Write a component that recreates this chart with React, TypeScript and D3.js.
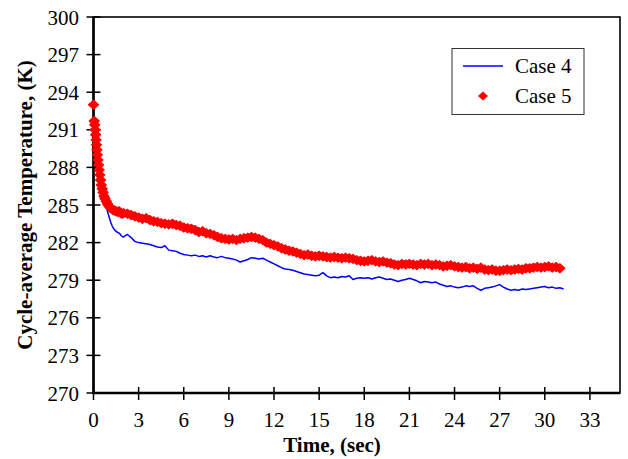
import React from 'react';
import * as d3 from 'd3';

// x ticks (sec) and y ticks (K)
const X_TICKS = [0, 3, 6, 9, 12, 15, 18, 21, 24, 27, 30, 33];
const Y_TICKS = [270, 273, 276, 279, 282, 285, 288, 291, 294, 297, 300];

// Case 4 - first two seconds (irregular sampling), then every 0.25 s from 2.0
const CASE4_EARLY_T = [0.05, 0.15, 0.25, 0.35, 0.45, 0.55, 0.65, 0.75, 0.85, 0.95, 1.05, 1.15, 1.25, 1.35, 1.45, 1.55, 1.65, 1.75, 1.85, 1.95];
const CASE4_EARLY_V = [291.2, 290.0, 289.0, 288.2, 287.4, 286.6, 285.9, 285.3, 284.8, 284.4, 284.0, 283.6, 283.3, 283.1, 282.95, 282.85, 282.8, 282.7, 282.55, 282.45];
const CASE4_STEP = 0.25;
const CASE4 = [
  282.45, 282.65, 282.4, 282.1, 282.0, 281.95, 281.9, 281.85, 281.75, 281.65, 281.6, 281.75,
  281.4, 281.35, 281.3, 281.15,
  281.05, 281.0, 280.95, 281.0,
  280.9, 280.95, 280.85, 280.95,
  280.85, 280.8, 280.9, 280.8,
  280.75, 280.7, 280.6, 280.45,
  280.55, 280.65, 280.8, 280.75,
  280.7, 280.75, 280.6, 280.45,
  280.3, 280.15, 280.0, 279.9,
  279.85, 279.8, 279.7, 279.6,
  279.5, 279.45, 279.4, 279.35,
  279.4, 279.6, 279.35, 279.2,
  279.25, 279.2, 279.3, 279.25,
  279.35, 279.05, 279.15, 279.2,
  279.15, 279.2, 279.1, 279.2,
  279.25, 279.15, 279.05, 279.1,
  279.0, 278.9, 279.0, 279.05,
  279.15, 279.05, 278.95, 278.8,
  278.9, 278.85, 278.8, 278.85,
  278.7, 278.6, 278.5, 278.55,
  278.45, 278.4, 278.45, 278.55,
  278.5, 278.55, 278.35, 278.2,
  278.35, 278.4, 278.45, 278.55,
  278.65, 278.45, 278.3, 278.2,
  278.25, 278.2, 278.3, 278.25,
  278.3, 278.35, 278.4, 278.45,
  278.5, 278.4, 278.45, 278.35,
  278.4, 278.3,
];

// Case 5 - early points, then every 0.25 s from 2.0
const CASE5_EARLY_T = [0.0, 0.05, 0.08, 0.11, 0.14, 0.17, 0.2, 0.23, 0.26, 0.3, 0.34, 0.38, 0.42, 0.47, 0.52, 0.58, 0.64, 0.7, 0.77, 0.85, 0.93, 1.0, 1.1, 1.2, 1.3, 1.4, 1.5, 1.6, 1.7, 1.8, 1.9];
const CASE5_EARLY_V = [293.0, 291.7, 291.4, 291.0, 290.6, 290.2, 289.8, 289.4, 289.0, 288.6, 288.2, 287.8, 287.4, 287.0, 286.6, 286.3, 286.0, 285.7, 285.5, 285.3, 285.1, 284.95, 284.8, 284.7, 284.6, 284.55, 284.5, 284.45, 284.5, 284.35, 284.3];
const CASE5_STEP = 0.25;
const CASE5 = [
  284.35, 284.3, 284.2, 284.1,
  284.0, 283.9, 283.95, 283.8,
  283.7, 283.65, 283.55, 283.5,
  283.45, 283.5, 283.4, 283.35,
  283.2, 283.15, 283.1, 283.0,
  282.85, 282.9, 282.75, 282.7,
  282.6, 282.45, 282.35, 282.3,
  282.25, 282.3, 282.2, 282.3,
  282.35, 282.4, 282.45, 282.4,
  282.3, 282.2, 282.0, 281.9,
  281.8, 281.7, 281.55, 281.45,
  281.35, 281.3, 281.2, 281.1,
  281.0, 281.05, 280.95, 280.9,
  280.95, 280.9, 280.85, 280.8,
  280.85, 280.8, 280.75, 280.8,
  280.75, 280.7, 280.6, 280.55,
  280.5, 280.55, 280.6, 280.5,
  280.45, 280.5, 280.4, 280.35,
  280.25, 280.2, 280.3, 280.25,
  280.3, 280.25, 280.2, 280.3,
  280.25, 280.3, 280.2, 280.25,
  280.2, 280.1, 280.15, 280.2,
  280.1, 280.05, 280.0, 280.05,
  279.95, 280.0, 279.9, 280.0,
  279.85, 279.8, 279.85, 279.75,
  279.75, 279.8, 279.85, 279.8,
  279.85, 279.9, 279.85, 279.95,
  279.95, 280.0, 280.05, 280.0,
  280.05, 280.1, 280.0, 280.05,
  279.95,
];

const W = 628;
const H = 459;
const FONT = '"Liberation Serif", "Times New Roman", Times, serif';

const toPoints = (earlyT: number[], earlyV: number[], step: number, vals: number[]) => {
  const pts: [number, number][] = earlyT.map((t, i) => [t, earlyV[i]]);
  vals.forEach((v, i) => pts.push([2 + i * step, v]));
  return pts;
};

const diamond = (cx: number, cy: number) =>
  `M${cx},${cy - 4.5}L${cx + 5},${cy}L${cx},${cy + 4.5}L${cx - 5},${cy}Z`;

const App: React.FC = () => {
  const left = 93.5, right = 620, top = 17, bottom = 393;

  const x = d3.scaleLinear().domain([0, 35]).range([left, right]);
  const y = d3.scaleLinear().domain([270, 300]).range([bottom, top]);

  const case4 = toPoints(CASE4_EARLY_T, CASE4_EARLY_V, CASE4_STEP, CASE4);
  const case5 = toPoints(CASE5_EARLY_T, CASE5_EARLY_V, CASE5_STEP, CASE5);

  const line = d3.line<[number, number]>()
    .x(d => x(d[0]))
    .y(d => y(d[1]));

  const txt = { fontFamily: FONT, fill: '#000' };

  return (
    <svg width={W} height={H} style={{ position: 'absolute', left: 0, top: 0, background: '#fff' }}>
      {/* frame */}
      <rect x={left} y={top} width={right - left} height={bottom - top} fill="none" stroke="#000" strokeWidth={1.6} />
      <line x1={left} x2={left} y1={top} y2={bottom + 1} stroke="#000" strokeWidth={2.6} />
      <line x1={left - 1} x2={right} y1={bottom} y2={bottom} stroke="#000" strokeWidth={2.6} />

      {/* y ticks */}
      {Y_TICKS.map(t => (
        <g key={`y${t}`}>
          <line x1={left - 7} x2={left + 7} y1={y(t)} y2={y(t)} stroke="#000" strokeWidth={1.5} />
          <text {...txt} x={79} y={y(t) + 7.5} textAnchor="end" fontSize={21}>{t}</text>
        </g>
      ))}

      {/* x ticks */}
      {X_TICKS.map(t => (
        <g key={`x${t}`}>
          <line x1={x(t)} x2={x(t)} y1={bottom - 6} y2={bottom + 7} stroke="#000" strokeWidth={1.5} />
          <text {...txt} x={x(t)} y={427} textAnchor="middle" fontSize={21}>{t}</text>
        </g>
      ))}

      {/* axis titles */}
      <text {...txt} x={332} y={452} textAnchor="middle" fontSize={21} fontWeight="bold">Time, (sec)</text>
      <text {...txt} transform={`translate(32,${(top + bottom) / 2}) rotate(-90)`} textAnchor="middle" fontSize={21}
        fontWeight="bold">Cycle-average Temperature, (K)</text>

      {/* Case 4 */}
      <path d={line(case4) ?? ''} fill="none" stroke="#0000FF" strokeWidth={1.5} strokeLinejoin="round" />

      {/* Case 5 */}
      <g fill="#FF0000" stroke="#FF0000" strokeWidth={1.2} strokeLinejoin="round">
        {case5.map((d, i) => <path key={i} d={diamond(x(d[0]), y(d[1]))} />)}
      </g>

      {/* legend */}
      <rect x={452} y={48.5} width={132} height={66} fill="#fff" stroke="#333" strokeWidth={1} />
      <line x1={463} x2={503} y1={66} y2={66} stroke="#0000FF" strokeWidth={1.5} />
      <text {...txt} x={515} y={73} fontSize={21}>Case 4</text>
      <path d={diamond(483, 96)} fill="#FF0000" />
      <text {...txt} x={515} y={103} fontSize={21}>Case 5</text>
    </svg>
  );
};

export default App;
